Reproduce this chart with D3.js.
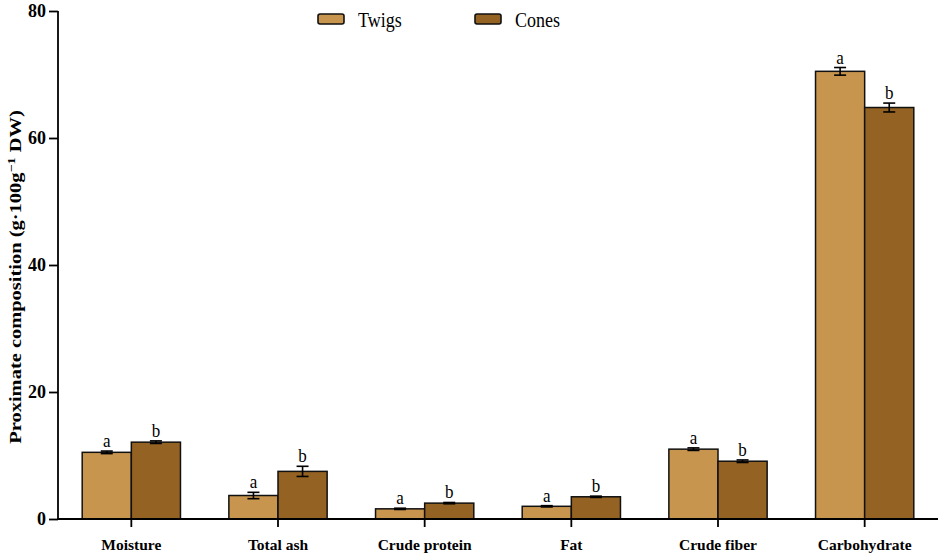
<!DOCTYPE html>
<html>
<head>
<meta charset="utf-8">
<script src="https://cdn.jsdelivr.net/npm/d3@7"></script>
<style>
  body { margin: 0; background: #fff; }
  svg { display: block; font-family: "Liberation Serif", "Times New Roman", serif; }
</style>
</head>
<body>
<svg id="chart" width="943" height="559"></svg>
<script>
// Data
const categories = ['Moisture', 'Total ash', 'Crude protein', 'Fat', 'Crude fiber', 'Carbohydrate'];
const seriesNames = ['Twigs', 'Cones'];
const twigsValues = [10.5, 3.7, 1.6, 2.0, 11.0, 70.5];
const twigsErrors = [0.2, 0.5, 0.1, 0.1, 0.2, 0.6];
const conesValues = [12.1, 7.5, 2.5, 3.5, 9.1, 64.8];
const conesErrors = [0.2, 0.8, 0.1, 0.1, 0.2, 0.7];
const twigsLetters = ['a', 'a', 'a', 'a', 'a', 'a'];
const conesLetters = ['b', 'b', 'b', 'b', 'b', 'b'];
const yTicks = [0, 20, 40, 60, 80];

const colors = { Twigs: '#C8954F', Cones: '#946222' };

const svg = d3.select('#chart');
const margin = { top: 11, right: 5, bottom: 40, left: 58 };
const width = 943, height = 559;

const x = d3.scaleBand()
    .domain(categories)
    .range([margin.left, width - margin.right])
    .paddingInner(0.33)
    .paddingOuter(0.165);

const xInner = d3.scaleBand()
    .domain(seriesNames)
    .range([0, x.bandwidth()]);

const y = d3.scaleLinear()
    .domain([0, 80])
    .range([height - margin.bottom, margin.top]);

// Build rows for drawing
const rows = [];
categories.forEach((c, i) => {
    rows.push({ cat: c, series: 'Twigs', value: twigsValues[i], err: twigsErrors[i], letter: twigsLetters[i] });
    rows.push({ cat: c, series: 'Cones', value: conesValues[i], err: conesErrors[i], letter: conesLetters[i] });
});

// Bars
svg.append('g').selectAll('rect')
    .data(rows)
    .enter()
    .append('rect')
    .attr('x', d => x(d.cat) + xInner(d.series))
    .attr('y', d => y(d.value))
    .attr('width', xInner.bandwidth())
    .attr('height', d => y(0) - y(d.value))
    .attr('fill', d => colors[d.series])
    .attr('stroke', '#111')
    .attr('stroke-width', 1.5);

// Error bars
const cap = 6;
const errG = svg.append('g').attr('stroke', '#000').attr('stroke-width', 1.6);
rows.forEach(d => {
    const cx = x(d.cat) + xInner(d.series) + xInner.bandwidth() / 2;
    const y1 = y(d.value + d.err), y2 = y(d.value - d.err);
    errG.append('line').attr('x1', cx).attr('x2', cx).attr('y1', y1).attr('y2', y2);
    errG.append('line').attr('x1', cx - cap).attr('x2', cx + cap).attr('y1', y1).attr('y2', y1);
    errG.append('line').attr('x1', cx - cap).attr('x2', cx + cap).attr('y1', y2).attr('y2', y2);
});

// Significance letters (slightly tall, like the reference type)
svg.append('g').selectAll('text')
    .data(rows)
    .enter()
    .append('text')
    .attr('transform', d => `translate(${x(d.cat) + xInner(d.series) + xInner.bandwidth() / 2},${y(d.value + d.err) - 4}) scale(1,1.15)`)
    .attr('text-anchor', 'middle')
    .style('font-size', '17px')
    .text(d => d.letter);

// Y axis
const yAxis = svg.append('g')
    .attr('transform', `translate(${margin.left},0)`)
    .call(d3.axisLeft(y).tickValues(yTicks).tickSize(9).tickPadding(3).tickFormat(d3.format('d')));
yAxis.select('.domain').attr('stroke', '#000').attr('stroke-width', 1.8).attr('d', `M0,${y(0)}V${y(80)}`);
yAxis.selectAll('.tick line').attr('stroke', '#000').attr('stroke-width', 1.8);
yAxis.selectAll('.tick text')
    .style('font-size', '18px')
    .style('font-weight', 'bold')
    .style('font-family', '"Liberation Serif", serif')
    .attr('fill', '#000');

// X axis
const xAxis = svg.append('g')
    .attr('transform', `translate(0,${y(0)})`)
    .call(d3.axisBottom(x).tickSize(8).tickPadding(12));
xAxis.select('.domain').attr('stroke', '#000').attr('stroke-width', 1.8)
    .attr('d', `M${margin.left},0H${width - margin.right}`);
xAxis.selectAll('.tick line').attr('stroke', '#000').attr('stroke-width', 1.8);
xAxis.selectAll('.tick text')
    .style('font-size', '15.5px')
    .style('font-weight', 'bold')
    .style('font-family', '"Liberation Serif", serif')
    .attr('fill', '#000');

// Y axis title (stretched along its length to match the reference)
const yTitle = svg.append('text')
    .attr('transform', `translate(21,277) rotate(-90) scale(1.28,1)`)
    .attr('text-anchor', 'middle')
    .style('font-size', '16px')
    .style('font-weight', 'bold');
yTitle.append('tspan').text('Proximate composition (g\u00B7100g');
yTitle.append('tspan').attr('dy', -6).style('font-size', '11px').text('\u22121');
yTitle.append('tspan').attr('dy', 6).text(' DW)');

// Legend
const legend = svg.append('g');
const legendX = [318, 475];
seriesNames.forEach((s, i) => {
    const g = legend.append('g').attr('transform', `translate(${legendX[i]},14)`);
    g.append('rect')
        .attr('width', 26).attr('height', 10)
        .attr('rx', 2)
        .attr('fill', colors[s])
        .attr('stroke', '#111')
        .attr('stroke-width', 1.6);
    g.append('text')
        .attr('transform', 'translate(40,13) scale(1,1.2)')
        .style('font-size', '18px')
        .text(s);
});
</script>
</body>
</html>
